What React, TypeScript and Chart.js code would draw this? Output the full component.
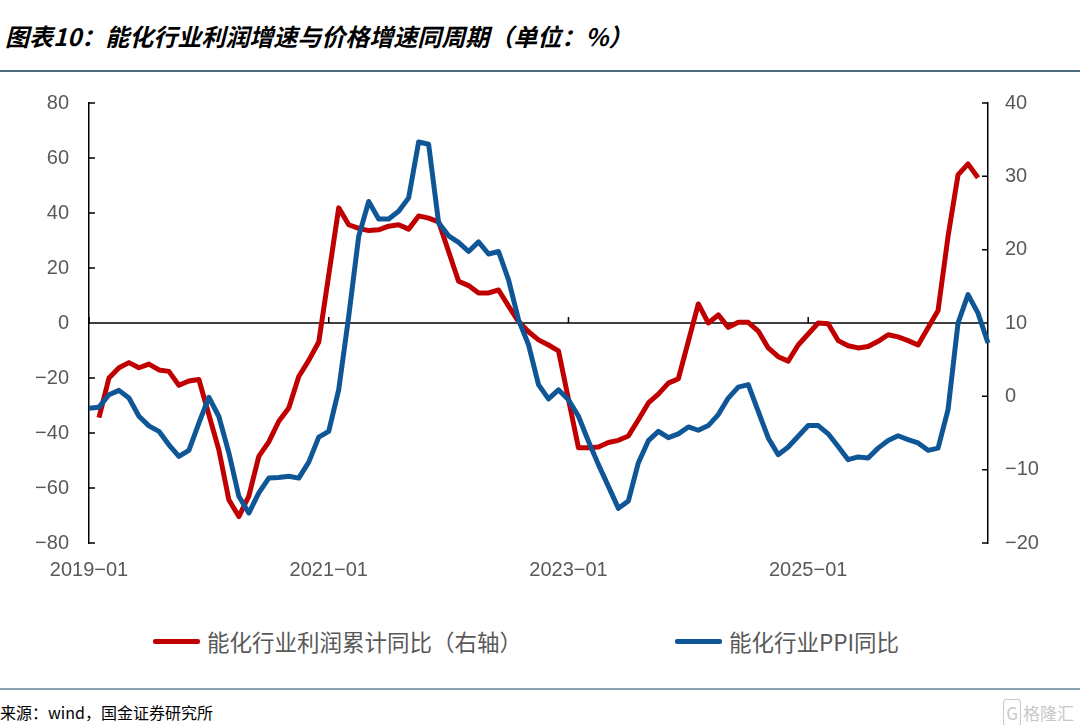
import { useEffect, useRef } from "react";
import { Chart, registerables } from "chart.js";

Chart.register(...registerables);

// months 2019-01 .. 2026-07
const months: string[] = [];
for (let y = 2019; y <= 2026; y++) {
  for (let m = 1; m <= 12; m++) {
    if (y === 2026 && m > 7) break;
    months.push(`${y}-${String(m).padStart(2, "0")}`);
  }
}

const shownMonths = ["2019-01", "2021-01", "2023-01", "2025-01"];

// 能化行业利润累计同比（右轴），1月无数据
const profitYoy: (number | null)[] = [
  null, -2.9, 2.5, 3.9, 4.6, 3.9, 4.4, 3.6, 3.4, 1.5, 2.1, 2.3,
  null, -7.3, -14.1, -16.4, -13.6, -8.2, -6.2, -3.4, -1.6, 2.7, 4.9, 7.4,
  null, 25.7, 23.4, 22.9, 22.6, 22.7, 23.2, 23.4, 22.8, 24.6, 24.3, 23.8,
  null, 15.7, 15.1, 14.1, 14.1, 14.5, 12.3, 10.2, 8.8, 7.7, 7.0, 6.2,
  null, -7.0, -7.0, -6.9, -6.3, -6.0, -5.4, -3.2, -0.9, 0.3, 1.8, 2.4,
  null, 12.6, 10.0, 11.1, 9.4, 10.1, 10.1, 8.9, 6.6, 5.4, 4.8, 7.0,
  null, 10.0, 9.9, 7.6, 6.9, 6.6, 6.8, 7.5, 8.4, 8.1, 7.6, 7.0,
  null, 11.7, 21.8, 30.2, 31.7, 29.8,
];

// 能化行业PPI同比（左轴）
const ppiYoy: number[] = [
  -31.0, -30.6, -26.1, -24.5, -27.3, -33.9, -37.4, -39.4, -44.3, -48.5, -46.3, -36.4,
  -27.0, -34.0, -47.2, -63.0, -69.1, -61.8, -56.4, -56.2, -55.7, -56.4, -50.6, -41.5,
  -39.4, -24.2, 2.4, 31.5, 44.2, 37.8, 37.8, 40.6, 45.5, 65.8, 65.0, 36.4,
  31.7, 29.3, 26.0, 29.5, 25.1, 26.0, 15.7, 1.2, -7.9, -22.4, -27.6, -24.3,
  -27.9, -33.9, -43.0, -51.5, -59.4, -67.4, -64.7, -50.8, -42.8, -39.4, -41.7, -40.3,
  -37.8, -39.0, -37.3, -33.3, -27.3, -23.3, -22.4, -32.1, -41.8, -47.9, -45.1, -41.2,
  -37.3, -37.3, -40.3, -44.9, -49.7, -48.7, -49.1, -45.5, -42.7, -41.0, -42.4, -43.6,
  -46.3, -45.5, -31.5, 0.0, 10.3, 3.6, -7.3,
];

const RED = "#C00000";
const BLUE = "#0F5697";
const minus = (s: string) => s.replace("-", "\u2212");

// zero line plus inward tick marks on both value axes and the category axis
const axisMarks = {
  id: "axisMarks",
  beforeDatasetsDraw(chart: any) {
    const { ctx, chartArea, scales } = chart;
    const yL = scales.y;
    const yR = scales.y1;
    const zero = yL.getPixelForValue(0);
    ctx.save();
    ctx.strokeStyle = "#000";
    ctx.lineWidth = 1.5;
    ctx.beginPath();
    ctx.moveTo(chartArea.left, zero);
    ctx.lineTo(chartArea.right, zero);
    shownMonths.forEach((m) => {
      const px = scales.x.getPixelForValue(months.indexOf(m));
      ctx.moveTo(px, zero);
      ctx.lineTo(px, zero - 6);
    });
    yL.ticks.forEach((t: any) => {
      const py = yL.getPixelForValue(t.value);
      ctx.moveTo(chartArea.left, py);
      ctx.lineTo(chartArea.left + 6, py);
    });
    yR.ticks.forEach((t: any) => {
      const py = yR.getPixelForValue(t.value);
      ctx.moveTo(chartArea.right, py);
      ctx.lineTo(chartArea.right - 6, py);
    });
    ctx.stroke();
    ctx.restore();
  },
};

function LineChart() {
  const canvasRef = useRef<HTMLCanvasElement | null>(null);

  useEffect(() => {
    if (!canvasRef.current) return;
    const tickFont = { family: "'Liberation Sans', Arial, sans-serif", size: 20 };
    const chart = new Chart(canvasRef.current, {
      type: "line",
      data: {
        labels: months,
        datasets: [
          {
            label: "能化行业利润累计同比（右轴）",
            data: profitYoy,
            yAxisID: "y1",
            borderColor: RED,
            borderWidth: 5,
            pointRadius: 0,
            tension: 0,
            spanGaps: true,
            borderJoinStyle: "round",
            order: 1,
          },
          {
            label: "能化行业PPI同比",
            data: ppiYoy,
            yAxisID: "y",
            borderColor: BLUE,
            borderWidth: 5,
            pointRadius: 0,
            tension: 0,
            borderJoinStyle: "round",
            order: 0,
          },
        ],
      },
      options: {
        animation: false,
        responsive: true,
        maintainAspectRatio: false,
        layout: { padding: { top: 23, bottom: 0, left: 0, right: 0 } },
        plugins: { legend: { display: false }, tooltip: { enabled: false } },
        scales: {
          x: {
            grid: { display: false, drawTicks: false },
            border: { display: false },
            ticks: {
              autoSkip: false,
              maxRotation: 0,
              minRotation: 0,
              padding: 15,
              color: "#595959",
              font: tickFont,
              callback: (_v: any, i: number) =>
                shownMonths.includes(months[i]) ? minus(months[i]) : null,
            },
            afterFit: (s: any) => {
              s.height = 57;
            },
          },
          y: {
            position: "left",
            min: -80,
            max: 80,
            grid: { display: false, drawTicks: false },
            border: { display: true, color: "#000", width: 1.5 },
            ticks: {
              stepSize: 20,
              padding: 20,
              color: "#595959",
              font: tickFont,
              callback: (v: any) => minus(String(v)),
            },
            afterFit: (s: any) => {
              s.width = 89;
              s.paddingTop = 0;
              s.paddingBottom = 0;
            },
          },
          y1: {
            position: "right",
            min: -20,
            max: 40,
            grid: { display: false, drawTicks: false },
            border: { display: true, color: "#000", width: 1.5 },
            ticks: {
              stepSize: 10,
              padding: 17,
              color: "#595959",
              font: tickFont,
              callback: (v: any) => minus(String(v)),
            },
            afterFit: (s: any) => {
              s.width = 92;
              s.paddingTop = 0;
              s.paddingBottom = 0;
            },
          },
        },
      },
      plugins: [axisMarks],
    });
    return () => chart.destroy();
  }, []);

  return (
    <div style={{ position: "absolute", left: 0, top: 80, width: 1080, height: 520 }}>
      <canvas ref={canvasRef} />
    </div>
  );
}

const cjk = "'Noto Sans CJK SC', 'Noto Sans', sans-serif";

function LegendItem({ color, text, left }: { color: string; text: string; left: number }) {
  return (
    <div style={{ position: "absolute", left, top: 626, display: "flex", alignItems: "center", height: 30 }}>
      <span style={{ display: "inline-block", width: 47, height: 5, background: color, borderRadius: 2 }} />
      <span style={{ marginLeft: 7, fontFamily: cjk, fontSize: 22.5, color: "#595959", whiteSpace: "nowrap" }}>
        {text}
      </span>
    </div>
  );
}

export default function App() {
  return (
    <div
      style={{
        position: "absolute",
        left: 0,
        top: 0,
        width: 1080,
        height: 725,
        background: "#fff",
        overflow: "hidden",
      }}
    >
      <div
        style={{
          position: "absolute",
          left: 5,
          top: 18,
          fontFamily: cjk,
          fontSize: 24,
          fontWeight: 700,
          fontStyle: "italic",
          color: "#000",
          whiteSpace: "nowrap",
        }}
      >
        图表10：能化行业利润增速与价格增速同周期（单位：%）
      </div>
      <div style={{ position: "absolute", left: 0, top: 70, width: 1080, height: 1.5, background: "#4E6E7E" }} />
      <LineChart />
      <LegendItem color={RED} text="能化行业利润累计同比（右轴）" left={153} />
      <LegendItem color={BLUE} text="能化行业PPI同比" left={675} />
      <div style={{ position: "absolute", left: 0, top: 688, width: 1080, height: 1.5, background: "#8AA1AE" }} />
      <div
        style={{
          position: "absolute",
          left: 0,
          top: 700,
          fontFamily: cjk,
          fontSize: 16,
          color: "#000",
          whiteSpace: "nowrap",
        }}
      >
        来源：wind，国金证券研究所
      </div>
      <div
        style={{
          position: "absolute",
          right: 6,
          top: 700,
          fontFamily: cjk,
          fontSize: 17,
          color: "#C8C8C8",
          whiteSpace: "nowrap",
        }}
      >
        <span style={{ border: "1.5px solid #C8C8C8", borderRadius: 3, padding: "0 2px", marginRight: 2 }}>G</span>
        格隆汇
      </div>
    </div>
  );
}
